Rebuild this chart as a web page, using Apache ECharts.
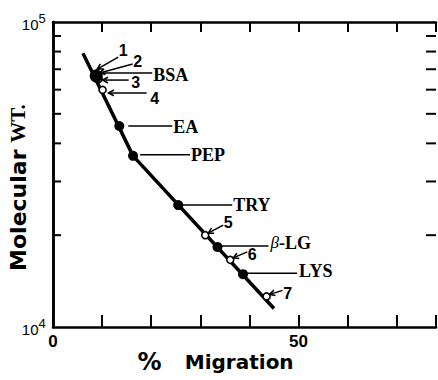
<!DOCTYPE html>
<html><head><meta charset="utf-8">
<script src="https://cdn.jsdelivr.net/npm/echarts@6/dist/echarts.min.js"></script>
<style>html,body{margin:0;padding:0;background:#fff}#c{width:438px;height:380px}</style>
</head><body><div id="c"></div>
<script>
// ---- data ----
const standardNames = ['BSA', 'EA', 'PEP', 'TRY', 'β-LG', 'LYS'];
const standardMigration = [8.8, 13.5, 16.3, 25.5, 33.5, 38.7];
const standardMW = [66500, 45600, 36400, 25100, 18300, 14900];
const unknownLabels = ['1', '2', '3', '4', '5', '6', '7'];
const unknownMigration = [8.6, 8.9, 9.3, 10.1, 31.0, 36.1, 43.5];
const unknownMW = [67500, 66500, 65000, 59900, 20000, 16600, 12600];
const fitMigration = [6.1, 16.3, 45.0];
const fitMW = [79000, 36400, 11500];
const xTickLabels = [0, 50];
const yTickLabels = [10000, 100000];
const yMinorTicks = [20000, 30000, 40000, 50000, 60000, 70000, 80000, 90000];
const xMin = 0, xMax = 78, xInterval = 10;
const yMin = 10000, yMax = 100000;

// ---- annotation layout (pixel offsets from each point) ----
const standardLayout = [
  {l: [4, 56, -3], t: [57, -1]},
  {l: [9, 53, 0], t: [54, 1]},
  {l: [7, 57, -1], t: [58, -1]},
  {l: [4, 54, 0], t: [55, 0]},
  {l: [4, 51, -1], t: [53, -4]},
  {l: [4, 54, -1], t: [56, -3]}
];
const unknownLayout = [
  {a: [2, -5, 23, -17], t: [28, -24]},
  {a: [3, -3, 36, -12], t: [41, -15]},
  {a: [4, 1, 30, 1], t: [37, 3]},
  {a: [6, 3, 44, 3], t: [52, 9]},
  {a: [3, -2, 18, -10], t: [23, -13]},
  {a: [3, -2, 17, -8], t: [22, -5]},
  {a: [3, -2, 16, -6], t: [21, -3]}
];

const INK = '#000';
const serif = '"Liberation Serif", "DejaVu Serif", serif';
const sans = '"Liberation Sans", Arial, sans-serif';
const dejavu = '"DejaVu Sans", sans-serif';

function stdText(name) {
  if (name.indexOf('β') === 0) return '{g|β}{t|' + name.slice(1) + '}';
  return '{t|' + name + '}';
}

const chart = echarts.init(document.getElementById('c'), null, {renderer: 'svg'});
chart.setOption({
  animation: false,
  backgroundColor: '#fff',
  grid: {left: 53, right: 2, top: 22, bottom: 53, containLabel: false, outerBoundsMode: 'none'},
  xAxis: [{
    type: 'value', min: xMin, max: xMax, interval: xInterval, position: 'bottom',
    axisLine: {lineStyle: {color: INK, width: 2.5}},
    axisTick: {inside: true, length: 12, lineStyle: {color: INK, width: 2}},
    splitLine: {show: false},
    axisLabel: {
      margin: 6, color: INK, fontSize: 17, fontWeight: 'bold', fontFamily: sans,
      formatter: v => xTickLabels.indexOf(v) >= 0 ? String(v) : ''
    },
    name: '{p|%}       {m|Migration}', nameLocation: 'middle', nameGap: 23, nameMoveOverlap: false,
    nameTextStyle: {
      padding: [0, 58, 0, 0],
      rich: {
        p: {fontSize: 24, fontWeight: 'bold', fontFamily: dejavu, color: INK},
        m: {fontSize: 20, fontWeight: 'bold', fontFamily: dejavu, color: INK}
      }
    }
  }, {
    type: 'value', min: xMin, max: xMax, interval: xInterval, position: 'top',
    axisLine: {lineStyle: {color: INK, width: 2.5}},
    axisTick: {inside: true, length: 10, lineStyle: {color: INK, width: 2}},
    axisLabel: {show: false}, splitLine: {show: false}
  }],
  yAxis: [{
    type: 'log', logBase: 10, min: yMin, max: yMax, position: 'left',
    axisLine: {lineStyle: {color: INK, width: 2.5}},
    axisTick: {show: false}, splitLine: {show: false},
    axisLabel: {
      margin: 7, color: INK,
      formatter: v => {
        const i = yTickLabels.indexOf(v);
        if (i < 0) return '';
        return '{b|10}{s|' + Math.round(Math.log10(v)) + '}{h| }';
      },
      rich: {
        b: {fontSize: 15, lineHeight: 15, verticalAlign: 'bottom', fontFamily: sans, color: INK},
        s: {fontSize: 13, lineHeight: 13, verticalAlign: 'top', fontFamily: sans, color: INK},
        h: {fontSize: 1, lineHeight: 20}
      }
    },
    name: '{m|Molecular}  {w|WT.}', nameLocation: 'middle', nameRotate: 90, nameGap: 24, nameMoveOverlap: false,
    nameTextStyle: {
      padding: [0, 26, 0, 0],
      rich: {
        m: {fontSize: 22, fontWeight: 'bold', fontFamily: dejavu, color: INK},
        w: {fontSize: 21, fontWeight: 'bold', fontFamily: serif, color: INK}
      }
    }
  }, {
    type: 'log', logBase: 10, min: yMin, max: yMax, position: 'right',
    axisLine: {lineStyle: {color: INK, width: 2.5}},
    axisTick: {show: false}, axisLabel: {show: false}, splitLine: {show: false}
  }],
  series: [
    {
      type: 'custom', name: 'minorTicks', xAxisIndex: 0, yAxisIndex: 0, z: 1,
      data: yMinorTicks.map(v => [xMin, v]),
      renderItem: (params, api) => {
        const v = api.value(1);
        const p = api.coord([xMin, v]);
        const q = api.coord([xMax, v]);
        return {type: 'group', children: [
          {type: 'line', shape: {x1: p[0], y1: p[1], x2: p[0] + 8, y2: p[1]}, style: {stroke: INK, lineWidth: 2}},
          {type: 'line', shape: {x1: q[0] - 10, y1: q[1], x2: q[0], y2: q[1]}, style: {stroke: INK, lineWidth: 2}}
        ]};
      }
    },
    {
      type: 'line', name: 'fit', z: 2, showSymbol: false, symbol: 'none',
      data: fitMigration.map((x, i) => [x, fitMW[i]]),
      lineStyle: {color: INK, width: 3.5}
    },
    {
      type: 'scatter', name: 'unknowns', z: 3, symbol: 'circle', symbolSize: 7,
      data: unknownMigration.map((x, i) => [x, unknownMW[i]]),
      itemStyle: {color: '#fff', borderColor: INK, borderWidth: 1.6, opacity: 1}
    },
    {
      type: 'scatter', name: 'standards', z: 4, symbol: 'circle',
      symbolSize: (val, params) => params.dataIndex === 0 ? 13 : 10,
      data: standardMigration.map((x, i) => [x, standardMW[i]]),
      itemStyle: {color: INK, opacity: 1}
    },
    {
      type: 'custom', name: 'standardLabels', z: 5,
      data: standardMigration.map((x, i) => [x, standardMW[i]]),
      renderItem: (params, api) => {
        const i = params.dataIndex;
        const p = api.coord([api.value(0), api.value(1)]);
        const L = standardLayout[i];
        return {type: 'group', children: [
          {type: 'line', shape: {x1: p[0] + L.l[0], y1: p[1] + L.l[2], x2: p[0] + L.l[1], y2: p[1] + L.l[2]},
            style: {stroke: INK, lineWidth: 1.5}},
          {type: 'text', x: p[0] + L.t[0], y: p[1] + L.t[1], style: {
            text: stdText(standardNames[i]), align: 'left', verticalAlign: 'middle',
            rich: {
              t: {fontSize: 18, fontWeight: 'bold', fontFamily: serif, fill: INK},
              g: {fontSize: 17, fontStyle: 'italic', fontFamily: serif, fill: INK}
            }
          }}
        ]};
      }
    },
    {
      type: 'custom', name: 'unknownLabels', z: 5,
      data: unknownMigration.map((x, i) => [x, unknownMW[i]]),
      renderItem: (params, api) => {
        const i = params.dataIndex;
        const p = api.coord([api.value(0), api.value(1)]);
        const L = unknownLayout[i];
        const x0 = p[0] + L.a[0], y0 = p[1] + L.a[1], x1 = p[0] + L.a[2], y1 = p[1] + L.a[3];
        const dx = x1 - x0, dy = y1 - y0, len = Math.hypot(dx, dy);
        const ux = dx / len, uy = dy / len, h = 6, ang = 0.5;
        const c = Math.cos(ang), s = Math.sin(ang);
        const ax = x0 + h * (ux * c - uy * s), ay = y0 + h * (uy * c + ux * s);
        const bx = x0 + h * (ux * c + uy * s), by = y0 + h * (uy * c - ux * s);
        return {type: 'group', children: [
          {type: 'line', shape: {x1: x0, y1: y0, x2: x1, y2: y1}, style: {stroke: INK, lineWidth: 1.5}},
          {type: 'polyline', shape: {points: [[ax, ay], [x0, y0], [bx, by]]}, style: {stroke: INK, lineWidth: 1.6, fill: null}},
          {type: 'text', x: p[0] + L.t[0], y: p[1] + L.t[1], style: {
            text: unknownLabels[i], align: 'center', verticalAlign: 'middle',
            fontSize: 16, fontWeight: 'bold', fontFamily: sans, fill: INK
          }}
        ]};
      }
    }
  ]
});
</script>
</body></html>
